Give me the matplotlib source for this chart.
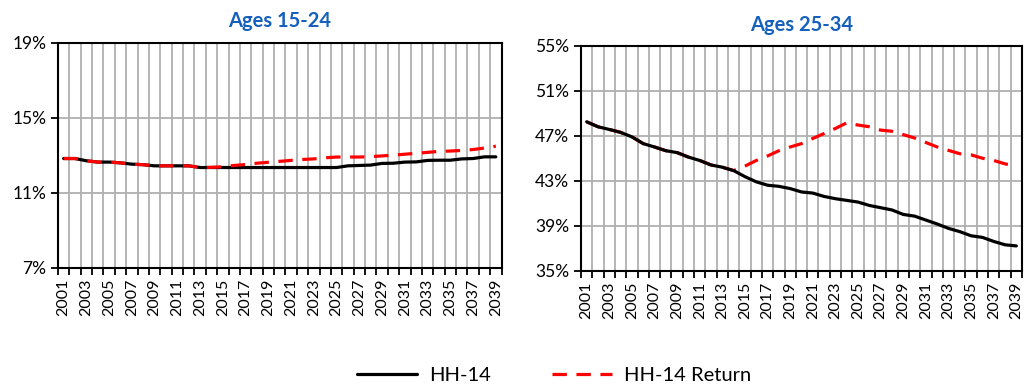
import numpy as np
import matplotlib
matplotlib.use('Agg')
import matplotlib.pyplot as plt
from matplotlib.ticker import FixedLocator, FuncFormatter

plt.rcParams['font.family'] = ['Lato', 'DejaVu Sans']

years = list(range(2001, 2040))

# Ages 15-24, percent
young_hh14 = [12.82, 12.82, 12.70, 12.63, 12.63, 12.59, 12.52, 12.49, 12.43, 12.43,
              12.43, 12.43, 12.34, 12.34, 12.34, 12.34, 12.34, 12.34, 12.34, 12.34,
              12.34, 12.34, 12.34, 12.34, 12.34, 12.43, 12.45, 12.47, 12.56, 12.57,
              12.63, 12.64, 12.72, 12.73, 12.73, 12.80, 12.82, 12.91, 12.91]
young_ret = [12.82, 12.82, 12.70, 12.63, 12.63, 12.59, 12.52, 12.49, 12.43, 12.43,
             12.43, 12.43, 12.34, 12.35, 12.38, 12.45, 12.50, 12.57, 12.62, 12.67,
             12.72, 12.77, 12.80, 12.86, 12.90, 12.90, 12.90, 12.92, 12.96, 13.00,
             13.05, 13.10, 13.15, 13.20, 13.22, 13.25, 13.30, 13.38, 13.48]

# Ages 25-34, percent
adult_hh14 = [48.24, 47.80, 47.56, 47.30, 46.90, 46.30, 46.00, 45.67, 45.50, 45.10,
              44.80, 44.40, 44.20, 43.90, 43.36, 42.90, 42.60, 42.50, 42.30, 42.00,
              41.90, 41.60, 41.40, 41.25, 41.10, 40.80, 40.60, 40.40, 40.00, 39.85,
              39.50, 39.15, 38.76, 38.47, 38.10, 37.96, 37.60, 37.30, 37.20]
adult_ret = [48.24, 47.80, 47.56, 47.30, 46.90, 46.30, 46.00, 45.67, 45.50, 45.10,
             44.80, 44.40, 44.20, 43.90, 44.30, 44.80, 45.20, 45.67, 46.00, 46.30,
             46.76, 47.20, 47.65, 48.15, 47.95, 47.80, 47.50, 47.40, 47.10, 46.80,
             46.40, 46.00, 45.70, 45.40, 45.30, 45.00, 44.80, 44.50, 44.30]

titles = ['Ages 15-24', 'Ages 25-34']
y_ticks = [[7, 11, 15, 19], [35, 39, 43, 47, 51, 55]]

fig = plt.figure(figsize=(10.26, 3.85), dpi=100)
ax1 = fig.add_axes([0.0565, 0.305, 0.4323, 0.584])
ax2 = fig.add_axes([0.5663, 0.297, 0.4298, 0.584])

x = np.arange(len(years))
red_dash = (0, (4.5, 3))
# (axes, black series, red series, black zorder, red zorder)
panels = [(ax1, young_hh14, young_ret, 3, 4), (ax2, adult_hh14, adult_ret, 4, 3)]

for i, (ax, hh, ret, z_hh, z_ret) in enumerate(panels):
    ax.plot(x, hh, color='black', lw=2.3, zorder=z_hh, solid_capstyle='round',
            label='HH-14')
    ax.plot(x, ret, color='#ff0000', lw=2.3, ls=red_dash, zorder=z_ret,
            label='HH-14 Return')

    ax.set_xlim(-0.5, len(years) - 0.5)
    ax.set_ylim(y_ticks[i][0], y_ticks[i][-1])

    # year labels at category centres, ticks and gridlines between categories
    ax.xaxis.set_major_locator(FixedLocator(x[::2]))
    ax.set_xticklabels([str(y) for y in years[::2]], rotation=90, fontsize=11.5)
    ax.xaxis.set_minor_locator(FixedLocator(np.arange(-0.5, len(years), 1)))
    ax.tick_params(axis='x', which='major', length=0, pad=8)
    ax.tick_params(axis='x', which='minor', length=5, width=1.3, direction='out')
    ax.grid(True, which='minor', axis='x', color='#b0b0b0', lw=1.3)

    ax.set_yticks(y_ticks[i])
    ax.yaxis.set_major_formatter(FuncFormatter(lambda v, p: '%d%%' % v))
    ax.tick_params(axis='y', length=5, width=1.3, labelsize=12.5)
    ax.grid(True, which='major', axis='y', color='#b0b0b0', lw=1.3)
    ax.set_axisbelow(True)

    for s in ax.spines.values():
        s.set_linewidth(1.5)
        s.set_color('black')

    ax.set_title(titles[i], fontsize=14.5, fontweight='bold', color='#1560bd', pad=11)

handles, labels = ax1.get_legend_handles_labels()
fig.legend(handles, labels, loc='center', bbox_to_anchor=(0.54, 0.025), ncol=2,
           frameon=False, fontsize=14.5, handlelength=3.0, columnspacing=3.0,
           handletextpad=0.6)

fig.savefig('out.png', dpi=100)
